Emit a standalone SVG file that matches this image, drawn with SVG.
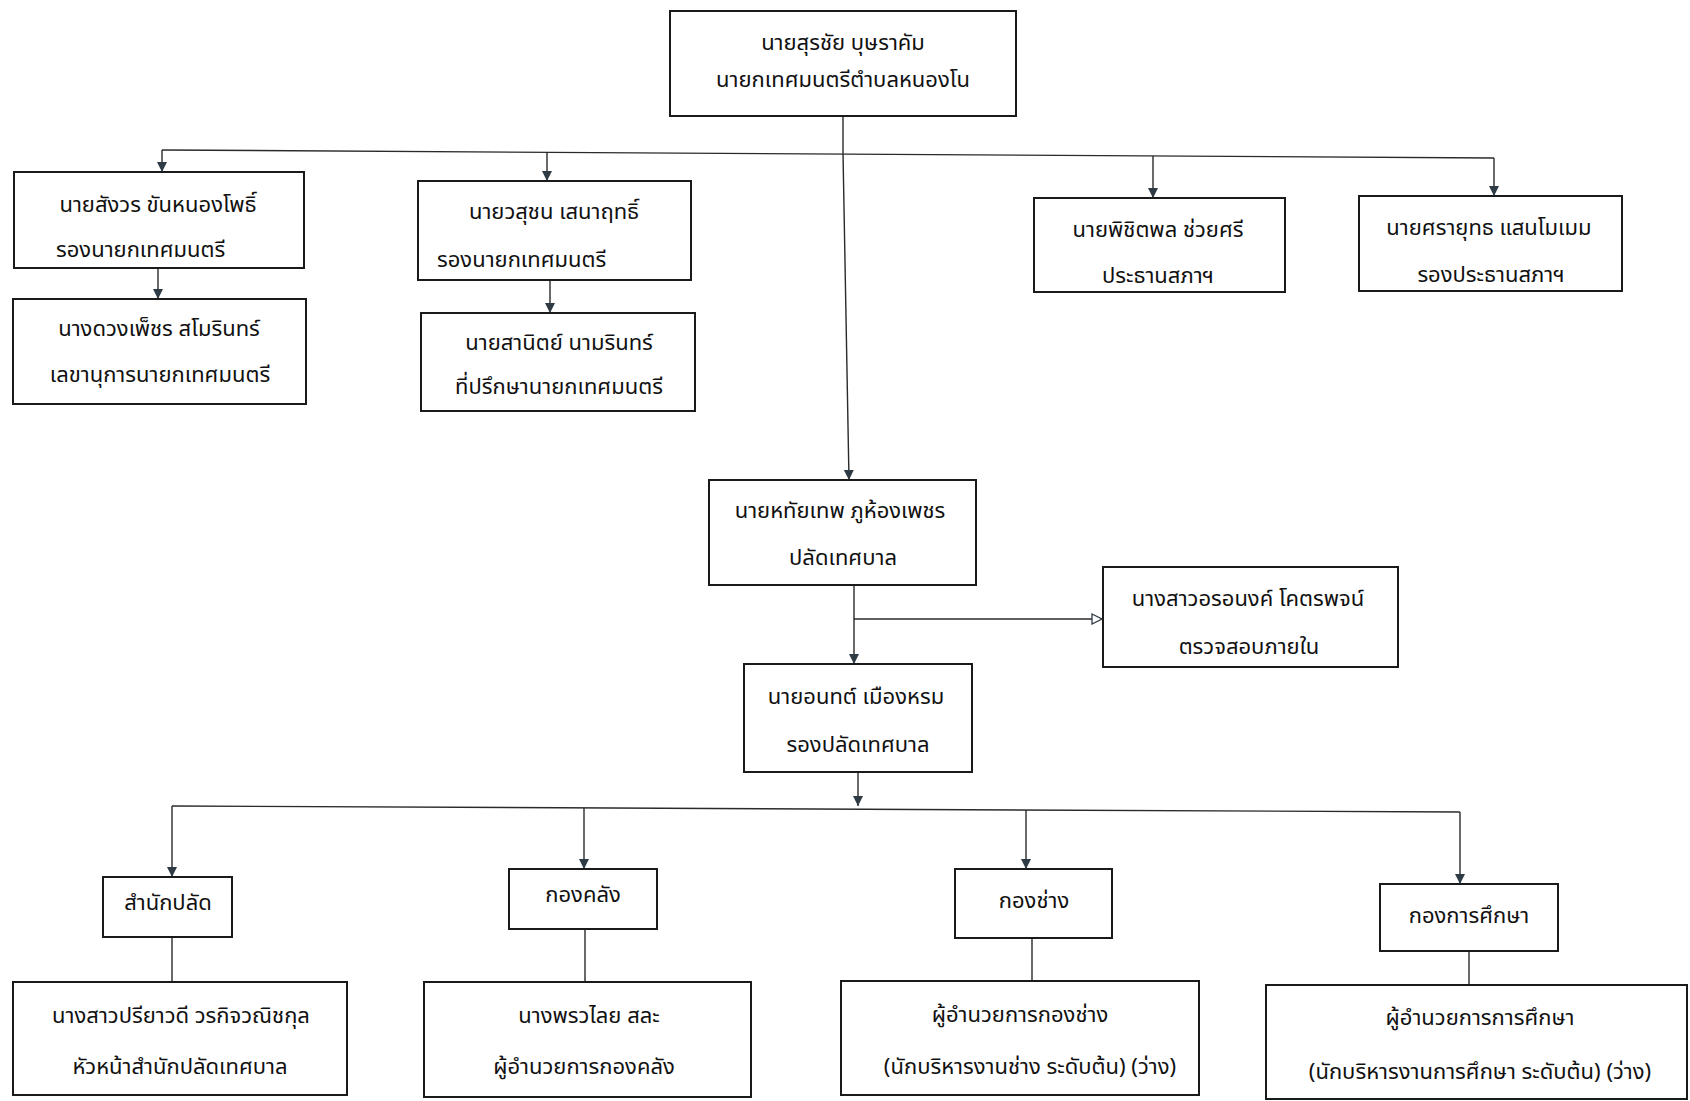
<svg xmlns="http://www.w3.org/2000/svg" width="1690" height="1101" viewBox="0 0 1690 1101">
<style>
.box{fill:#fff;stroke:#1a1a1a;stroke-width:2}
.t{font-family:"Noto Sans Thai","Noto Sans","DejaVu Sans",sans-serif;font-size:22px;fill:#111;text-anchor:middle}
.s{text-anchor:start}
.ln{fill:none;stroke:#2a2a2a;stroke-width:1.4}
.arr{marker-end:url(#ah)}
</style>
<defs>
<marker id="ah" markerUnits="userSpaceOnUse" markerWidth="10" markerHeight="12" refX="10" refY="5" orient="auto">
<path d="M0,0 L10,5 L0,10 z" fill="#2e3a44"/>
</marker>
<marker id="ao" markerUnits="userSpaceOnUse" markerWidth="12" markerHeight="12" refX="11" refY="6" orient="auto">
<path d="M1,1 L11,6 L1,11 z" fill="#fff" stroke="#2e3a44" stroke-width="1.3"/>
</marker>
</defs>
<rect width="1690" height="1101" fill="#fff"/>
<g id="connectors">
<line class="ln" x1="843" y1="116" x2="843" y2="153"/>
<line class="ln" x1="162" y1="150" x2="1494" y2="158"/>
<line class="ln arr" x1="162" y1="150" x2="162" y2="172"/>
<line class="ln arr" x1="547" y1="152" x2="547" y2="181"/>
<line class="ln arr" x1="1153" y1="156" x2="1153" y2="198"/>
<line class="ln arr" x1="1494" y1="158" x2="1494" y2="196"/>
<line class="ln arr" x1="158" y1="268" x2="158" y2="299"/>
<line class="ln arr" x1="550" y1="280" x2="550" y2="313"/>
<line class="ln arr" x1="843" y1="153" x2="849" y2="480"/>
<line class="ln arr" x1="854" y1="585" x2="854" y2="664"/>
<line class="ln" x1="854" y1="619" x2="1102" y2="619" marker-end="url(#ao)"/>
<line class="ln arr" x1="858" y1="772" x2="858" y2="806"/>
<line class="ln" x1="172" y1="806" x2="1460" y2="812"/>
<line class="ln arr" x1="172" y1="806" x2="172" y2="877"/>
<line class="ln arr" x1="584" y1="808" x2="584" y2="869"/>
<line class="ln arr" x1="1026" y1="810" x2="1026" y2="869"/>
<line class="ln arr" x1="1460" y1="812" x2="1460" y2="884"/>
<line class="ln" x1="172" y1="937" x2="172" y2="982"/>
<line class="ln" x1="585" y1="929" x2="585" y2="982"/>
<line class="ln" x1="1032" y1="938" x2="1032" y2="981"/>
<line class="ln" x1="1469" y1="951" x2="1469" y2="985"/>
</g>
<g id="mayor"><rect class="box" x="670" y="11" width="346" height="105"/>
<text class="t" x="843" y="50">นายสุรชัย บุษราคัม</text>
<text class="t" x="843" y="87">นายกเทศมนตรีตำบลหนองโน</text></g>
<g id="deputy1"><rect class="box" x="14" y="172" width="290" height="96"/>
<text class="t" x="158" y="212">นายสังวร ขันหนองโพธิ์</text>
<text class="t s" x="56" y="257">รองนายกเทศมนตรี</text></g>
<g id="secretary"><rect class="box" x="13" y="299" width="293" height="105"/>
<text class="t" x="159" y="336">นางดวงเพ็ชร สโมรินทร์</text>
<text class="t" x="160" y="382">เลขานุการนายกเทศมนตรี</text></g>
<g id="deputy2"><rect class="box" x="418" y="181" width="273" height="99"/>
<text class="t" x="554" y="219">นายวสุชน เสนาฤทธิ์</text>
<text class="t s" x="437" y="267">รองนายกเทศมนตรี</text></g>
<g id="advisor"><rect class="box" x="421" y="313" width="274" height="98"/>
<text class="t" x="559" y="350">นายสานิตย์ นามรินทร์</text>
<text class="t" x="559" y="394">ที่ปรึกษานายกเทศมนตรี</text></g>
<g id="council-chair"><rect class="box" x="1034" y="198" width="251" height="94"/>
<text class="t" x="1158" y="237">นายพิชิตพล ช่วยศรี</text>
<text class="t" x="1158" y="283">ประธานสภาฯ</text></g>
<g id="council-vice"><rect class="box" x="1359" y="196" width="263" height="95"/>
<text class="t" x="1489" y="235">นายศรายุทธ แสนโมเมม</text>
<text class="t" x="1491" y="282">รองประธานสภาฯ</text></g>
<g id="clerk"><rect class="box" x="709" y="480" width="267" height="105"/>
<text class="t" x="840" y="518">นายหทัยเทพ ภูห้องเพชร</text>
<text class="t" x="843" y="565">ปลัดเทศบาล</text></g>
<g id="audit"><rect class="box" x="1103" y="567" width="295" height="100"/>
<text class="t" x="1248" y="606">นางสาวอรอนงค์ โคตรพจน์</text>
<text class="t" x="1249" y="654">ตรวจสอบภายใน</text></g>
<g id="deputy-clerk"><rect class="box" x="744" y="664" width="228" height="108"/>
<text class="t" x="856" y="704">นายอนทต์ เมืองหรม</text>
<text class="t" x="858" y="752">รองปลัดเทศบาล</text></g>
<g id="office"><rect class="box" x="103" y="877" width="129" height="60"/>
<text class="t" x="168" y="910">สำนักปลัด</text></g>
<g id="finance"><rect class="box" x="509" y="869" width="148" height="60"/>
<text class="t" x="583" y="902">กองคลัง</text></g>
<g id="engineering"><rect class="box" x="955" y="869" width="157" height="69"/>
<text class="t" x="1034" y="908">กองช่าง</text></g>
<g id="education"><rect class="box" x="1380" y="884" width="178" height="67"/>
<text class="t" x="1469" y="923">กองการศึกษา</text></g>
<g id="office-head"><rect class="box" x="13" y="982" width="334" height="113"/>
<text class="t" x="181" y="1023">นางสาวปรียาวดี วรกิจวณิชกุล</text>
<text class="t" x="180" y="1074">หัวหน้าสำนักปลัดเทศบาล</text></g>
<g id="finance-head"><rect class="box" x="424" y="982" width="327" height="115"/>
<text class="t" x="589" y="1023">นางพรวไลย สละ</text>
<text class="t" x="584" y="1074">ผู้อำนวยการกองคลัง</text></g>
<g id="engineering-head"><rect class="box" x="841" y="981" width="358" height="114"/>
<text class="t" x="1020" y="1022">ผู้อำนวยการกองช่าง</text>
<text class="t" x="1030" y="1074">(นักบริหารงานช่าง ระดับต้น) (ว่าง)</text></g>
<g id="education-head"><rect class="box" x="1266" y="985" width="421" height="114"/>
<text class="t" x="1480" y="1025">ผู้อำนวยการการศึกษา</text>
<text class="t" x="1480" y="1079">(นักบริหารงานการศึกษา ระดับต้น) (ว่าง)</text></g>
</svg>
